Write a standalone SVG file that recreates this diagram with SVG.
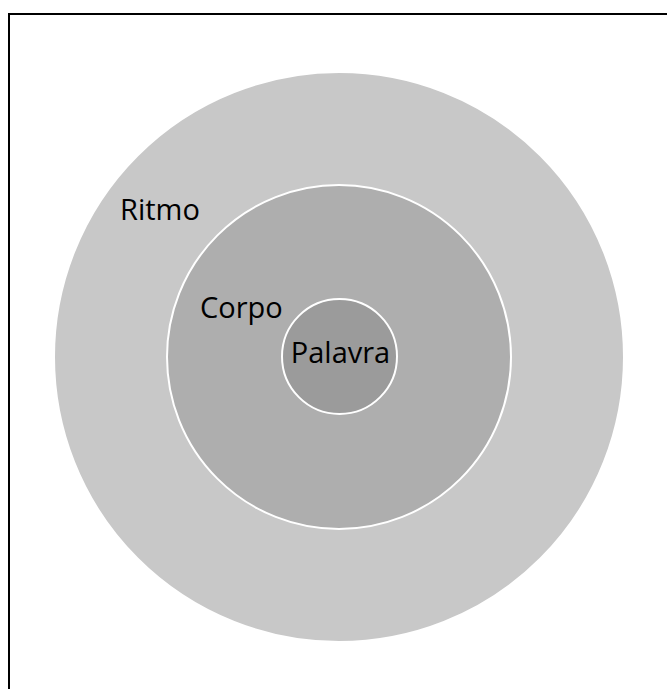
<svg xmlns="http://www.w3.org/2000/svg" width="667" height="689" viewBox="0 0 667 689">
  <style>
    .ring { stroke: #ffffff; stroke-width: 2; }
    .lbl { font-family: "Open Sans", "Liberation Sans", sans-serif; font-size: 29px; fill: #000000; }
  </style>
  <rect x="0" y="0" width="667" height="689" fill="#ffffff"/>
  <path d="M9 689 V14 H667" fill="none" stroke="#000000" stroke-width="2"/>
  <g id="ritmo">
    <circle class="ring" cx="339" cy="357" r="285" fill="#c8c8c8"/>
    <text class="lbl" x="120" y="220">Ritmo</text>
  </g>
  <g id="corpo">
    <circle class="ring" cx="339" cy="357" r="172" fill="#aeaeae"/>
    <text class="lbl" x="200" y="318">Corpo</text>
  </g>
  <g id="palavra">
    <circle class="ring" cx="339.5" cy="356.5" r="57.5" fill="#9b9b9b"/>
    <text class="lbl" x="340.5" y="363" text-anchor="middle">Palavra</text>
  </g>
  <g id="connectors"/>
</svg>
